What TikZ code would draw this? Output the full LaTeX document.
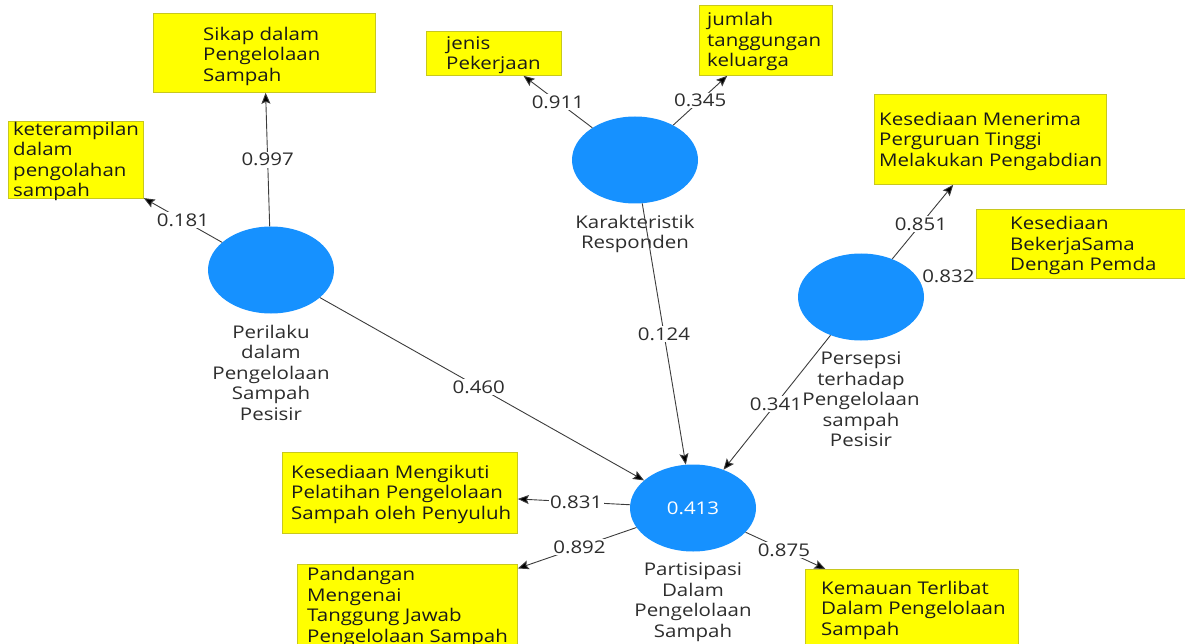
\documentclass[tikz,border=0pt]{standalone}
\usepackage{fontspec}
\setmainfont[FakeStretch=1.17]{Open Sans}
\usetikzlibrary{shapes.geometric,arrows.meta}
\definecolor{lvblue}{RGB}{22,145,255}
\definecolor{mvyellow}{RGB}{255,255,0}
\definecolor{mvedge}{RGB}{200,200,30}
\definecolor{txtgray}{RGB}{45,45,45}
\definecolor{linegray}{RGB}{60,60,60}

\begin{document}
\begin{tikzpicture}[x=1pt,y=-1pt,
    every node/.style={font=\fontsize{17.5}{20.5}\selectfont, text=txtgray},
    lv/.style={ellipse, fill=lvblue, minimum width=126pt, minimum height=87pt, inner sep=0pt},
    lvname/.style={align=center, inner sep=0pt, yshift=-11pt},
    mv/.style={rectangle, fill=mvyellow, draw=mvedge, line width=0.8pt, anchor=north west, inner sep=0pt},
    mvtext/.style={anchor=north west, align=left, inner sep=0pt, text=black!90},
    ln/.style={draw=linegray, line width=0.9pt, -{Stealth[length=11pt,width=9pt,inset=2pt,fill=black]}},
    coef/.style={fill=white, inner sep=1.5pt}]
    \useasboundingbox (0,0) rectangle (1185,644);

    \node[lv, label={[lvname]below:{Perilaku\\dalam\\Pengelolaan\\Sampah\\Pesisir}}] (perilaku) at (271,270) {};
    \node[lv, label={[lvname]below:{Karakteristik\\Responden}}] (karakteristik) at (635,160) {};
    \node[lv, label={[lvname]below:{Persepsi\\terhadap\\Pengelolaan\\sampah\\Pesisir}}] (persepsi) at (861,297) {};
    \node[lv, text=white, label={[lvname]below:{Partisipasi\\Dalam\\Pengelolaan\\Sampah}}] (partisipasi) at (693,508) {0.413};

    \node[mv, minimum width=222pt, minimum height=79pt] (sikap) at (153,13) {};
    \node[mvtext] at (203,27) {Sikap dalam\\Pengelolaan\\Sampah};
    \node[mv, minimum width=135pt, minimum height=77pt] (keterampilan) at (8,121) {};
    \node[mvtext] at (13,122) {keterampilan\\dalam\\pengolahan\\sampah};
    \node[mv, minimum width=135pt, minimum height=44pt] (jenis) at (426,31) {};
    \node[mvtext] at (446,36) {jenis\\Pekerjaan};
    \node[mv, minimum width=133pt, minimum height=70pt] (jumlah) at (699,5) {};
    \node[mvtext] at (707,12.5) {jumlah\\tanggungan\\keluarga};
    \node[mv, minimum width=232pt, minimum height=90pt] (menerima) at (874,94) {};
    \node[mvtext] at (879,112) {Kesediaan Menerima\\Perguruan Tinggi\\Melakukan Pengabdian};
    \node[mv, minimum width=215pt, minimum height=69pt] (bekerjasama) at (976,209) {};
    \node[mvtext] at (1010,216.5) {Kesediaan\\BekerjaSama\\Dengan Pemda};
    \node[mv, minimum width=235pt, minimum height=81pt] (mengikuti) at (282,452) {};
    \node[mvtext] at (291,465) {Kesediaan Mengikuti\\Pelatihan Pengelolaan\\Sampah oleh Penyuluh};
    \node[mv, minimum width=220pt, minimum height=84pt] (pandangan) at (297,564) {};
    \node[mvtext] at (307,567) {Pandangan\\Mengenai\\Tanggung Jawab\\Pengelolaan Sampah};
    \node[mv, minimum width=213pt, minimum height=79pt] (kemauan) at (805,569) {};
    \node[mvtext] at (821,580.5) {Kemauan Terlibat\\Dalam Pengelolaan\\Sampah};

    \draw[ln] (perilaku) -- (sikap) node[coef, pos=0.5] {0.997};
    \draw[ln] (perilaku) -- (keterampilan) node[coef, pos=0.5] {0.181};
    \draw[ln] (karakteristik) -- (jenis) node[coef, pos=0.5] {0.911};
    \draw[ln] (karakteristik) -- (jumlah) node[coef, pos=0.5] {0.345};
    \draw[ln] (persepsi) -- (menerima) node[coef, pos=0.47] {0.851};
    \draw[ln, shorten >=5pt] (persepsi) -- (bekerjasama) node[coef, pos=0.5] {0.832};
    \draw[ln] (partisipasi) -- (mengikuti) node[coef, pos=0.48] {0.831};
    \draw[ln] (partisipasi) -- (pandangan) node[coef, pos=0.48] {0.892};
    \draw[ln] (partisipasi) -- (kemauan) node[coef, pos=0.48] {0.875};

    \draw[ln] (perilaku) -- (partisipasi) node[coef, pos=0.49] {0.460};
    \draw[ln] (karakteristik) -- (partisipasi) node[coef, pos=0.5] {0.124};
    \draw[ln] (persepsi) -- (partisipasi) node[coef, pos=0.51] {0.341};
\end{tikzpicture}
\end{document}
